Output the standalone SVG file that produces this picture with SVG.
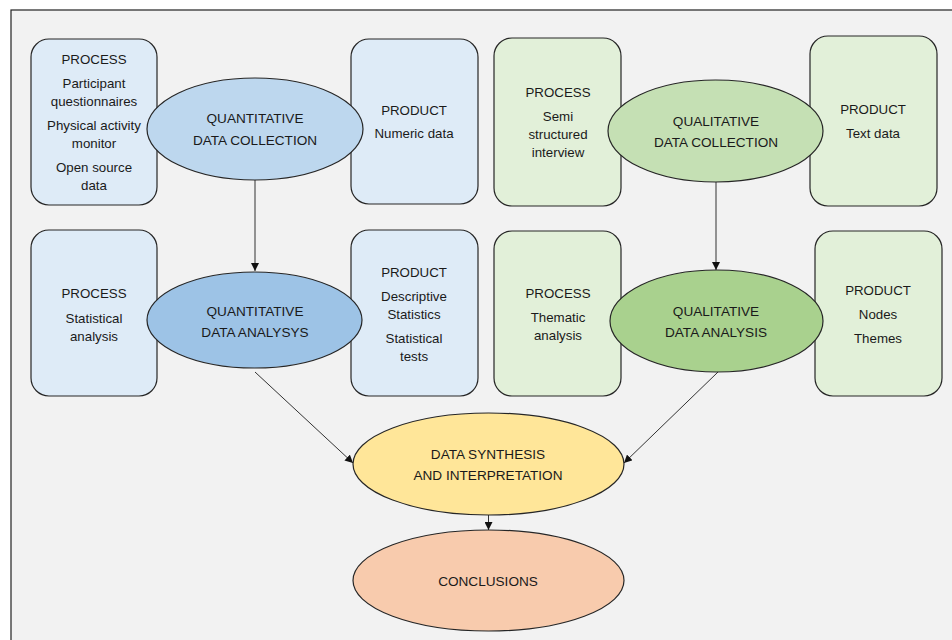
<svg xmlns="http://www.w3.org/2000/svg" width="952" height="640" viewBox="0 0 952 640">
<defs>
<style>
.box{stroke:#262626;stroke-width:1.2}
.el{stroke:#262626;stroke-width:1.2}
.qb{fill:#deebf7}
.gb{fill:#e2f0d9}
text{font-family:"Liberation Sans",Arial,sans-serif;fill:#1a1a1a;text-anchor:middle;dominant-baseline:central}
.s{font-size:13.3px}
.l{font-size:13.6px}
.con{stroke:#333;stroke-width:1;fill:none;marker-end:url(#ah)}
</style>
<marker id="ah" viewBox="0 0 10 10" refX="10" refY="5" markerWidth="8" markerHeight="8" markerUnits="userSpaceOnUse" orient="auto">
<path d="M0,0 L10,5 L0,10 z" fill="#111"/>
</marker>
</defs>
<rect x="0" y="0" width="952" height="640" fill="#ffffff"/>
<rect x="11" y="10" width="960" height="660" fill="#f2f2f2" stroke="#222" stroke-width="1.2"/>

<g id="connectors">
<line class="con" x1="255" y1="180" x2="255" y2="271"/>
<line class="con" x1="716" y1="182" x2="716" y2="270"/>
<line class="con" x1="255" y1="372" x2="353" y2="463"/>
<line class="con" x1="718" y1="372" x2="624" y2="463"/>
<line class="con" x1="488.5" y1="515" x2="488.5" y2="530"/>
</g>

<g id="qn-process1">
<rect class="box qb" x="31" y="39" width="126" height="166" rx="18"/>
<text class="s" x="94" y="59">PROCESS</text>
<text class="s" x="94" y="83">Participant</text>
<text class="s" x="94" y="101">questionnaires</text>
<text class="s" x="94" y="125">Physical activity</text>
<text class="s" x="94" y="143">monitor</text>
<text class="s" x="94" y="167">Open source</text>
<text class="s" x="94" y="185">data</text>
</g>
<g id="qn-product1">
<rect class="box qb" x="351" y="39" width="127" height="165" rx="18"/>
<text class="s" x="414" y="110">PRODUCT</text>
<text class="s" x="414" y="133">Numeric data</text>
</g>
<g id="qn-collection">
<ellipse class="el" cx="255" cy="129" rx="108" ry="51" fill="#bdd7ee"/>
<text class="l" x="255" y="118">QUANTITATIVE</text>
<text class="l" x="255" y="140">DATA COLLECTION</text>
</g>

<g id="ql-process1">
<rect class="box gb" x="494" y="38" width="127" height="168" rx="18"/>
<text class="s" x="558" y="92">PROCESS</text>
<text class="s" x="558" y="116">Semi</text>
<text class="s" x="558" y="134">structured</text>
<text class="s" x="558" y="152">interview</text>
</g>
<g id="ql-product1">
<rect class="box gb" x="810" y="36" width="127" height="170" rx="18"/>
<text class="s" x="873" y="109">PRODUCT</text>
<text class="s" x="873" y="133">Text data</text>
</g>
<g id="ql-collection">
<ellipse class="el" cx="715.5" cy="131" rx="107.5" ry="51" fill="#c5e0b4"/>
<text class="l" x="716" y="121">QUALITATIVE</text>
<text class="l" x="716" y="142">DATA COLLECTION</text>
</g>

<g id="qn-process2">
<rect class="box qb" x="31" y="230" width="126" height="166" rx="18"/>
<text class="s" x="94" y="293">PROCESS</text>
<text class="s" x="94" y="318">Statistical</text>
<text class="s" x="94" y="336">analysis</text>
</g>
<g id="qn-product2">
<rect class="box qb" x="351" y="230" width="127" height="166" rx="18"/>
<text class="s" x="414" y="272">PRODUCT</text>
<text class="s" x="414" y="296">Descriptive</text>
<text class="s" x="414" y="314">Statistics</text>
<text class="s" x="414" y="338">Statistical</text>
<text class="s" x="414" y="356">tests</text>
</g>
<g id="qn-analysis">
<ellipse class="el" cx="254.5" cy="320" rx="107.5" ry="48" fill="#9dc3e6"/>
<text class="l" x="255" y="311">QUANTITATIVE</text>
<text class="l" x="255" y="332">DATA ANALYSYS</text>
</g>

<g id="ql-process2">
<rect class="box gb" x="494" y="231" width="127" height="165" rx="18"/>
<text class="s" x="558" y="293">PROCESS</text>
<text class="s" x="558" y="317">Thematic</text>
<text class="s" x="558" y="335">analysis</text>
</g>
<g id="ql-product2">
<rect class="box gb" x="815" y="231" width="127" height="165" rx="18"/>
<text class="s" x="878" y="290">PRODUCT</text>
<text class="s" x="878" y="314">Nodes</text>
<text class="s" x="878" y="338">Themes</text>
</g>
<g id="ql-analysis">
<ellipse class="el" cx="716.5" cy="321" rx="106.5" ry="51" fill="#a9d18e"/>
<text class="l" x="716" y="311">QUALITATIVE</text>
<text class="l" x="716" y="332">DATA ANALYSIS</text>
</g>

<g id="synthesis">
<ellipse class="el" cx="488.5" cy="464" rx="135.5" ry="51" fill="#ffe699"/>
<text class="l" x="488" y="454">DATA SYNTHESIS</text>
<text class="l" x="488" y="475">AND INTERPRETATION</text>
</g>
<g id="conclusions">
<ellipse class="el" cx="488.5" cy="580.5" rx="135.5" ry="50.5" fill="#f8cbad"/>
<text class="l" x="488" y="581">CONCLUSIONS</text>
</g>
</svg>
